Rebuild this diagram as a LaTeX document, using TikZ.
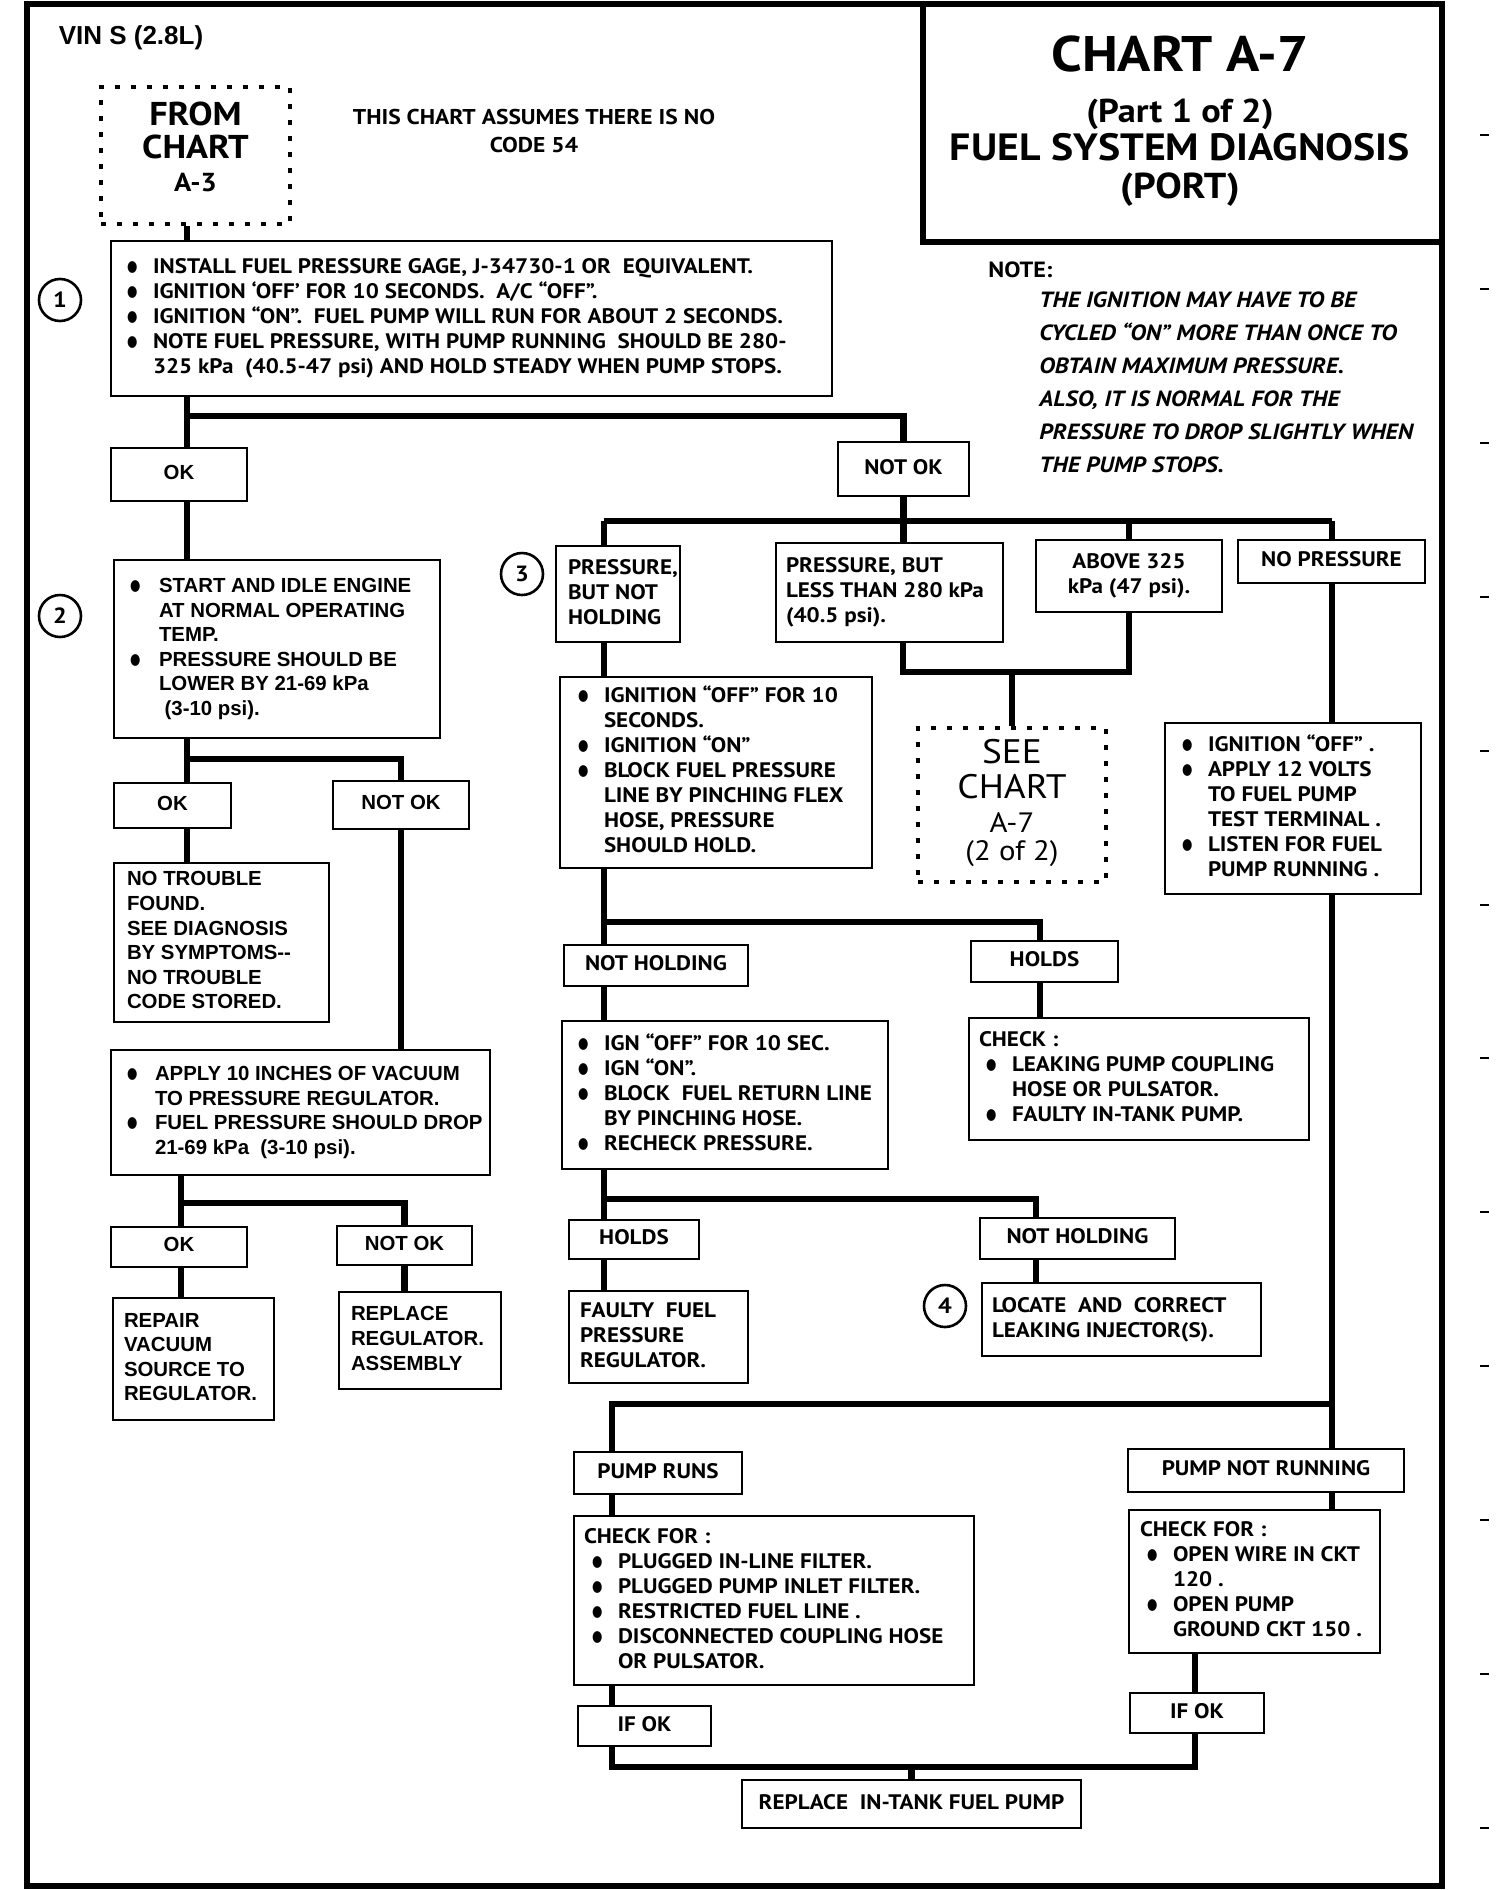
\documentclass[tikz,border=0pt]{standalone}
\usepackage{graphicx}
\usepackage{fontspec}
\setmainfont{PT Sans}[FakeStretch=1.1]
\newfontfamily\arb{Liberation Sans}
\newfontfamily\djv{DejaVu Sans}
\newlength\bulind
\setlength\bulind{13pt}
\newcommand\bul{\raisebox{0.9pt}{\djv\fontsize{7}{7}\selectfont\scalebox{0.85}[1.1]{●}}}
\newcommand\bli[1]{\makebox[\bulind][l]{\bul}#1}
\newcommand\cli[1]{\hspace*{\bulind}#1}
\newcommand\lbox[8][]{%
  \pgfmathsetmacro\pbw{(#5-#3)/2}%
  \pgfmathsetmacro\pbh{(#6-#4)/2}%
  \pgfmathsetmacro\pbt{(#5-#3)/2-#7}%
  \pgfmathsetmacro\pbp{#7/2}%
  \node[box,minimum width=\pbw pt,minimum height=\pbh pt,inner xsep=\pbp pt,#1] (#2) at ({(#3+#5)/2},{(#4+#6)/2}) {\makebox[\pbt pt][l]{\begin{tabular}{@{}l@{}}#8\end{tabular}}};}
\newcommand\cbox[7][]{%
  \pgfmathsetmacro\pbw{(#5-#3)/2}%
  \pgfmathsetmacro\pbh{(#6-#4)/2}%
  \node[box,minimum width=\pbw pt,minimum height=\pbh pt,#1] (#2) at ({(#3+#5)/2},{(#4+#6)/2}) {\begin{tabular}{@{}c@{}}#7\end{tabular}};}
\tikzset{
  rt/.style={font={\bfseries\fontsize{10.5}{12.5}\selectfont}},
  lt/.style={font={\arb\bfseries\fontsize{10.2}{12.3}\selectfont}},
  box/.style={draw,line width=1.4pt,inner sep=0pt,rt},
  dotbox/.style={draw,line width=2.4pt,dash pattern=on 2.4pt off 5.6pt,inner sep=0pt},
  conn/.style={line width=3.2pt,line join=miter},
  circ/.style={draw,circle,line width=1.3pt,minimum size=21pt,inner sep=0pt,font={\bfseries\fontsize{11}{11}\selectfont}},
  bul/.code={\setlength\bulind{#1}}
}
\begin{document}
\begin{tikzpicture}[x=0.5pt,y=-0.5pt]
\useasboundingbox (0,0) rectangle (1504,1890);
\fill[white] (0,0) rectangle (1504,1890);
% frame
\draw[line width=3pt] (27,4) rectangle (1442,1886);
\foreach \k in {0,...,11} \draw[line width=1pt] (1480,{135+153.9*\k}) -- (1489,{135+153.9*\k});
% title
\cbox[line width=2.6pt]{title}{923}{4}{1442}{242}{}
\node[font={\bfseries\fontsize{25}{25}\selectfont}] (t1) at (1180,54) {CHART A-7};
\node[font={\bfseries\fontsize{16.5}{16.5}\selectfont}] (t2) at (1180,114) {(Part 1 of 2)};
\node[font={\bfseries\fontsize{19}{19}\selectfont}] (t3) at (1180,147) {FUEL SYSTEM DIAGNOSIS};
\node[font={\bfseries\fontsize{18}{18}\selectfont}] (t4) at (1180,190) {(PORT)};
\node[font={\arb\bfseries\fontsize{13}{15}\selectfont}] (vin) at (131,38) {VIN S (2.8L)};
\node[font={\bfseries\fontsize{10.7}{14}\selectfont}] (assume) at (534,133) {\begin{tabular}{@{}c@{}}THIS CHART ASSUMES THERE IS NO\\CODE 54\end{tabular}};
% note
\node[anchor=west,font={\bfseries\fontsize{11}{13}\selectfont},inner sep=0pt] (notehd) at (988,270) {NOTE:};
\node[anchor=base west,inner sep=0pt,font={\bfseries\itshape\fontsize{11}{16.5}\selectfont}] (notetx) at (1039,307) {\begin{tabular}[t]{@{}l@{}}THE IGNITION MAY HAVE TO BE\\CYCLED “ON” MORE THAN ONCE TO\\OBTAIN MAXIMUM PRESSURE.\\ALSO, IT IS NORMAL FOR THE\\PRESSURE TO DROP SLIGHTLY WHEN\\THE PUMP STOPS.\end{tabular}};
% circles
\node[circ] (c1) at (60,300) {1};
\node[circ] (c2) at (60,616) {2};
\node[circ] (c3) at (522,574) {3};
\node[circ] (c4) at (945,1306) {4};
% from chart
\cbox[dotbox,font={\bfseries\fontsize{16.5}{16.5}\selectfont}]{fc}{101}{87}{290}{224}{FROM\\CHART\\{\fontsize{13}{13}\selectfont A-3}\\[4pt]}
% box 1
\lbox{b1}{111}{241}{832}{396}{16}{%
\bli{INSTALL FUEL PRESSURE GAGE, J-34730-1 OR\ \ EQUIVALENT.}\\
\bli{IGNITION ‘OFF’ FOR 10 SECONDS.\ \ A/C “OFF”.}\\
\bli{IGNITION “ON”.\ \ FUEL PUMP WILL RUN FOR ABOUT 2 SECONDS.}\\
\bli{NOTE FUEL PRESSURE, WITH PUMP RUNNING\ \ SHOULD BE 280-}\\
\cli{325 kPa\ \ (40.5-47 psi) AND HOLD STEADY WHEN PUMP STOPS.}}
% left column
\cbox[lt]{ok1}{111}{448}{247}{501}{OK}
\cbox[rt]{nok1}{838}{442}{969}{496}{NOT OK}
\lbox[lt,bul=14.5pt]{b2}{114}{560}{440}{738}{16}{%
\bli{START AND IDLE ENGINE}\\
\cli{AT NORMAL OPERATING}\\
\cli{TEMP.}\\
\bli{PRESSURE SHOULD BE}\\
\cli{LOWER BY 21-69 kPa}\\
\cli{\ (3-10 psi).}}
\cbox[lt]{ok2}{114}{783}{231}{828}{OK}
\cbox[lt]{nok2}{333}{781}{469}{829}{NOT OK}
\lbox[lt]{nt}{114}{863}{329}{1022}{13}{NO TROUBLE\\FOUND.\\SEE DIAGNOSIS\\BY SYMPTOMS-{}-\\NO TROUBLE\\CODE STORED.}
\lbox[lt,bul=14pt]{apply}{111}{1050}{490}{1175}{16}{%
\bli{APPLY 10 INCHES OF VACUUM}\\
\cli{TO PRESSURE REGULATOR.}\\
\bli{FUEL PRESSURE SHOULD DROP}\\
\cli{21-69 kPa\ \ (3-10 psi).}}
\cbox[lt]{ok3}{111}{1227}{247}{1267}{OK}
\cbox[lt]{nok3}{337}{1226}{472}{1265}{NOT OK}
\lbox[lt]{repair}{113}{1298}{274}{1420}{11}{REPAIR\\VACUUM\\SOURCE TO\\REGULATOR.}
\lbox[lt]{repreg}{339}{1292}{501}{1389}{12}{REPLACE\\REGULATOR.\\ASSEMBLY}
% right part
\lbox{pnh}{556}{546}{680}{642}{12}{PRESSURE,\\BUT NOT\\HOLDING}
\lbox{pbl}{776}{543}{1003}{642}{10}{PRESSURE, BUT\\LESS THAN 280 kPa\\(40.5 psi).}
\cbox{a325}{1036}{540}{1222}{612}{ABOVE 325\\kPa (47 psi).}
\cbox{nopres}{1238}{540}{1425}{583}{NO PRESSURE}
\lbox{b3}{560}{677}{872}{868}{18}{%
\bli{IGNITION “OFF” FOR 10}\\
\cli{SECONDS.}\\
\bli{IGNITION “ON”}\\
\bli{BLOCK FUEL PRESSURE}\\
\cli{LINE BY PINCHING FLEX}\\
\cli{HOSE, PRESSURE}\\
\cli{SHOULD HOLD.}}
\cbox[dotbox,font={\fontsize{17}{17}\selectfont}]{seec}{918}{728}{1106}{882}{SEE\\CHART\\{\fontsize{14}{14}\selectfont A-7}\\[-3pt]{\fontsize{14}{14}\selectfont (2 of 2)}}
\lbox{igoff}{1165}{723}{1421}{894}{17}{%
\bli{IGNITION “OFF” .}\\
\bli{APPLY 12 VOLTS}\\
\cli{TO FUEL PUMP}\\
\cli{TEST TERMINAL .}\\
\bli{LISTEN FOR FUEL}\\
\cli{PUMP RUNNING .}}
\cbox{nh1}{564}{945}{748}{986}{NOT HOLDING}
\cbox{holds1}{971}{941}{1118}{982}{HOLDS}
\lbox{ign}{562}{1021}{888}{1169}{16}{%
\bli{IGN “OFF” FOR 10 SEC.}\\
\bli{IGN “ON”.}\\
\bli{BLOCK\ \ FUEL RETURN LINE}\\
\cli{BY PINCHING HOSE.}\\
\bli{RECHECK PRESSURE.}}
\lbox{chk1}{969}{1018}{1309}{1140}{10}{%
CHECK :\\
\hspace*{3.5pt}\bli{LEAKING PUMP COUPLING}\\
\hspace*{3.5pt}\cli{HOSE OR PULSATOR.}\\
\hspace*{3.5pt}\bli{FAULTY IN-TANK PUMP.}}
\cbox{holds2}{569}{1220}{699}{1259}{HOLDS}
\cbox{nh2}{980}{1218}{1175}{1259}{NOT HOLDING}
\lbox{faulty}{569}{1291}{748}{1383}{11}{FAULTY\ \ FUEL\\PRESSURE\\REGULATOR.}
\lbox{locate}{982}{1283}{1261}{1356}{10}{LOCATE\ \ AND\ \ CORRECT\\LEAKING INJECTOR(S).}
\cbox{pumpruns}{574}{1452}{742}{1494}{PUMP RUNS}
\cbox{pumpnot}{1128}{1449}{1404}{1492}{PUMP NOT RUNNING}
\lbox{chkl}{574}{1516}{974}{1685}{10}{%
CHECK FOR :\\
\hspace*{4pt}\bli{PLUGGED IN-LINE FILTER.}\\
\hspace*{4pt}\bli{PLUGGED PUMP INLET FILTER.}\\
\hspace*{4pt}\bli{RESTRICTED FUEL LINE .}\\
\hspace*{4pt}\bli{DISCONNECTED COUPLING HOSE}\\
\hspace*{4pt}\cli{OR PULSATOR.}}
\lbox{chkr}{1129}{1510}{1380}{1653}{11}{%
CHECK FOR :\\
\hspace*{3.5pt}\bli{OPEN WIRE IN CKT}\\
\hspace*{3.5pt}\cli{120 .}\\
\hspace*{3.5pt}\bli{OPEN PUMP}\\
\hspace*{3.5pt}\cli{GROUND CKT 150 .}}
\cbox{ifokl}{578}{1706}{711}{1746}{IF OK}
\cbox{ifokr}{1130}{1693}{1264}{1733}{IF OK}
\cbox{repl}{742}{1780}{1081}{1828}{REPLACE\ \ IN-TANK FUEL PUMP}
% connectors left
\coordinate (jA) at (187,416);
\draw[conn] (fc.south -| jA) -- (b1.north -| jA);
\draw[conn] (b1.south -| jA) -- (ok1.north -| jA);
\draw[conn] (jA) -| (nok1.north);
\draw[conn] (ok1.south -| jA) -- (b2.north -| jA);
\coordinate (jB) at (187,759);
\draw[conn] (b2.south -| jB) -- (ok2.north -| jB);
\draw[conn] (jB) -| (nok2.north);
\draw[conn] (ok2.south -| jB) -- (nt.north -| jB);
\draw[conn] (nok2.south) -- (apply.north -| nok2.south);
\coordinate (jC) at (181,1203);
\draw[conn] (apply.south -| jC) -- (ok3.north -| jC);
\draw[conn] (jC) -| (nok3.north);
\draw[conn] (ok3.south -| jC) -- (repair.north -| jC);
\draw[conn] (nok3.south) -- (repreg.north -| nok3.south);
% connectors right
\coordinate (jD) at (903,521);
\coordinate (jDl) at (604,521);
\coordinate (jDr) at (1332,521);
\draw[conn] (nok1.south) -- (pbl.north -| nok1.south);
\draw[conn] (jDl) -- (jDr);
\draw[conn] (jDl) -- (pnh.north -| jDl);
\draw[conn] (a325.north) -- (a325.north |- jD);
\draw[conn] (jDr) -- (nopres.north -| jDr);
\coordinate (jE) at (903,672);
\draw[conn] (pbl.south -| jE) -- (jE) -| (a325.south);
\draw[conn] (jE -| seec.north) -- (seec.north);
\draw[conn] (pnh.south -| jDl) -- (b3.north -| jDl);
\coordinate (jF) at (604,922);
\coordinate (jFr) at (1040,922);
\draw[conn] (b3.south -| jF) -- (nh1.north -| jF);
\draw[conn] (jF) -- (jFr) -- (holds1.north -| jFr);
\draw[conn] (nh1.south -| jF) -- (ign.north -| jF);
\draw[conn] (holds1.south -| jFr) -- (chk1.north -| jFr);
\coordinate (jG) at (604,1199);
\coordinate (jGr) at (1036,1199);
\draw[conn] (ign.south -| jG) -- (holds2.north -| jG);
\draw[conn] (jG) -- (jGr) -- (nh2.north -| jGr);
\draw[conn] (holds2.south -| jG) -- (faulty.north -| jG);
\draw[conn] (nh2.south -| jGr) -- (locate.north -| jGr);
\draw[conn] (nopres.south -| jDr) -- (igoff.north -| jDr);
\coordinate (jH) at (1332,1404);
\coordinate (jHl) at (612,1404);
\draw[conn] (igoff.south -| jH) -- (pumpnot.north -| jH);
\draw[conn] (jH) -- (jHl) -- (pumpruns.north -| jHl);
\draw[conn] (pumpruns.south -| jHl) -- (chkl.north -| jHl);
\draw[conn] (pumpnot.south -| jH) -- (chkr.north -| jH);
\draw[conn] (chkl.south -| jHl) -- (ifokl.north -| jHl);
\coordinate (jI) at (612,1767);
\coordinate (jIr) at (1195,1767);
\draw[conn] (chkr.south -| jIr) -- (ifokr.north -| jIr);
\draw[conn] (ifokl.south -| jI) -- (jI) -- (jIr) -- (ifokr.south -| jIr);
\draw[conn] (jI -| repl.north) -- (repl.north);
\end{tikzpicture}
\end{document}
